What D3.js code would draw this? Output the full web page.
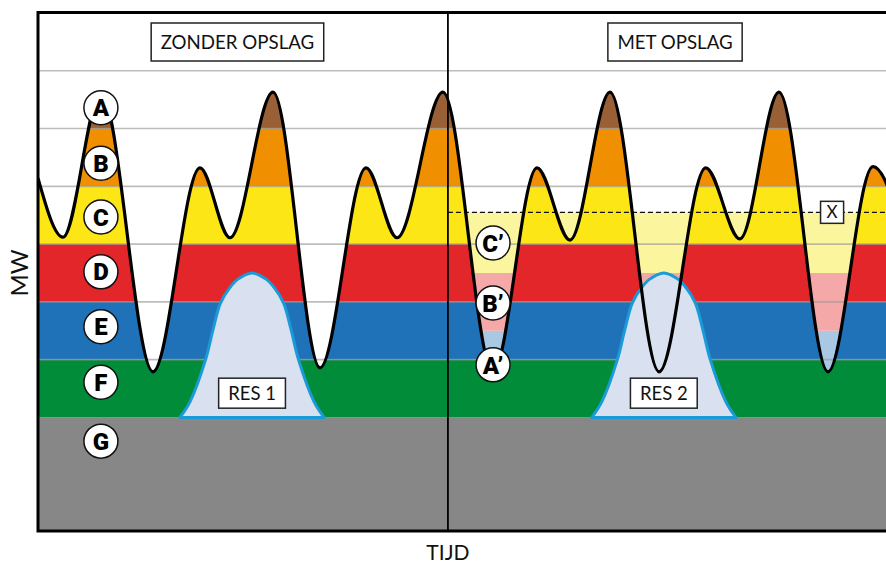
<!DOCTYPE html>
<html>
<head>
<meta charset="utf-8">
<script src="https://cdn.jsdelivr.net/npm/d3@7"></script>
<style>
  body { margin: 0; background: #fff; }
  svg { display: block; }
</style>
</head>
<body>
<div id="chart"></div>
<script>
// vraagcurve: keerpunten (tijd, MW)
const demandTime = [0, 1.47, 3.71, 6.78, 9.55, 11.32, 13.86, 16.63, 19.34, 21.17, 23.88, 26.83, 29.42, 31.37, 33.73, 36.62, 39.37, 41.39, 43.69, 46.58, 49.23, 51.1];
const demandMW = [6.14, 5.12, 7.63, 2.79, 6.32, 5.11, 7.63, 2.86, 6.32, 5.11, 7.63, 2.79, 6.32, 5.07, 7.63, 2.79, 6.32, 5.09, 7.63, 2.79, 6.34, 5.1];

// productielagen (merit order)
const bandNames = ['G', 'F', 'E', 'D', 'C', 'B', 'A'];
const bandLow = [0, 2, 3, 4, 5, 6, 7];
const bandHigh = [2, 3, 4, 5, 6, 7, 8];
const bandColors = ['#878787', '#008c38', '#1f71b8', '#e3262a', '#fce616', '#f08f00', '#9a6035'];
const bandLabelMW = [1.59, 2.61, 3.57, 4.52, 5.47, 6.40, 7.36];
const bandLabelTime = 3.71;

// opslag (alleen rechter paneel)
const storageNames = ['A\u2019', 'B\u2019', 'C\u2019'];
const storageLow = [0, 3.5, 4.5];
const storageHigh = [3.5, 4.5, 5.55];
const storageColors = ['#a8c8e4', '#f4a8a8', '#fbf59e'];
const storageLabelMW = [2.91, 3.98, 5.02];
const storageLabelTime = 26.83;
const storageLevel = 5.55;
const storageLevelLabel = 'X';
const storageLevelLabelTime = 46.82;

// RES-productie (klokvorm)
const resOffset = [-4.25, -3.66, -2.74, -2.3, -1.86, -1.3, -0.85, 0, 0.85, 1.3, 1.86, 2.3, 2.74, 3.66, 4.25];
const resMW = [2.0, 2.27, 3.0, 3.52, 3.98, 4.25, 4.39, 4.5, 4.39, 4.25, 3.98, 3.52, 3.0, 2.27, 2.0];
const resNames = ['RES 1', 'RES 2'];
const resCenter = [12.62, 36.9];
const resLabelMW = 2.42;

const panelNames = ['ZONDER OPSLAG', 'MET OPSLAG'];
const panelStart = [0, 24.17];
const panelLabelTime = [11.76, 37.56];

const width = 886, height = 565;
const x = d3.scaleLinear().domain([0, 50]).range([38, 886]);
const y = d3.scaleLinear().domain([0, 9]).range([533, 13]);
const plotTop = 12.5, plotBottom = 531;
const font = 'Lato, "Open Sans", sans-serif';

const svg = d3.select('#chart').append('svg')
  .attr('width', width)
  .attr('height', height);

const defs = svg.append('defs');
defs.append('clipPath').attr('id', 'plot-clip')
  .append('rect')
  .attr('x', x(0))
  .attr('y', plotTop)
  .attr('width', width - x(0) + 10)
  .attr('height', plotBottom - plotTop);

const idx = d3.range(demandTime.length);
const areaAbove = d3.area()
  .x(i => x(demandTime[i]))
  .y0(y(9.5))
  .y1(i => y(demandMW[i]))
  .curve(d3.curveMonotoneX);
const demandLine = d3.line()
  .x(i => x(demandTime[i]))
  .y(i => y(demandMW[i]))
  .curve(d3.curveMonotoneX);

defs.append('clipPath').attr('id', 'above-curve')
  .append('path')
  .attr('d', areaAbove(idx));

const plot = svg.append('g').attr('clip-path', 'url(#plot-clip)');

// lagen
plot.selectAll('rect.band')
  .data(bandNames)
  .enter()
  .append('rect')
  .attr('class', 'band')
  .attr('x', x(0))
  .attr('y', (d, i) => y(bandHigh[i]))
  .attr('width', width)
  .attr('height', (d, i) => y(bandLow[i]) - y(bandHigh[i]))
  .attr('fill', (d, i) => bandColors[i]);

// alles boven de vraag is wit
plot.append('path')
  .attr('d', areaAbove(idx))
  .attr('fill', '#fff');

// opslag vult de dalen in het rechter paneel
plot.append('g')
  .attr('clip-path', 'url(#above-curve)')
  .selectAll('rect')
  .data(storageNames)
  .enter()
  .append('rect')
  .attr('x', x(panelStart[1]))
  .attr('y', (d, i) => y(storageHigh[i]))
  .attr('width', width)
  .attr('height', (d, i) => y(storageLow[i]) - y(storageHigh[i]))
  .attr('fill', (d, i) => storageColors[i]);

// rasterlijnen
plot.selectAll('line.grid')
  .data(bandHigh.slice(1))
  .enter()
  .append('line')
  .attr('class', 'grid')
  .attr('x1', x(0))
  .attr('x2', width)
  .attr('y1', d => y(d))
  .attr('y2', d => y(d))
  .attr('stroke', '#9a9a9a')
  .attr('stroke-opacity', 0.65)
  .attr('stroke-width', 1.6);

// RES klokken
const resIdx = d3.range(resOffset.length);
resCenter.forEach((c, k) => {
  const bell = d3.line()
    .x(i => x(c + resOffset[i]))
    .y(i => y(resMW[i]))
    .curve(d3.curveCatmullRom.alpha(0.5));
  plot.append('path')
    .attr('d', bell(resIdx) + 'Z')
    .attr('fill', '#d9e1f1')
    .attr('stroke', '#1b9ad8')
    .attr('stroke-width', 3)
    .attr('stroke-linejoin', 'round');
});

// opslagniveau X
plot.append('line')
  .attr('x1', x(panelStart[1]))
  .attr('x2', width)
  .attr('y1', y(storageLevel))
  .attr('y2', y(storageLevel))
  .attr('stroke', '#111')
  .attr('stroke-width', 1.3)
  .attr('stroke-dasharray', '5,3');

// vraagcurve
plot.append('path')
  .attr('d', demandLine(idx))
  .attr('fill', 'none')
  .attr('stroke', '#000')
  .attr('stroke-width', 3.2)
  .attr('stroke-linejoin', 'round');

// scheiding panelen
svg.append('line')
  .attr('x1', x(panelStart[1]))
  .attr('x2', x(panelStart[1]))
  .attr('y1', plotTop)
  .attr('y2', plotBottom)
  .attr('stroke', '#000')
  .attr('stroke-width', 1.8);

// kader (rechts valt buiten beeld)
svg.append('rect')
  .attr('x', x(0))
  .attr('y', plotTop)
  .attr('width', width)
  .attr('height', plotBottom - plotTop)
  .attr('fill', 'none')
  .attr('stroke', '#000')
  .attr('stroke-width', 3);

// tekst in kaders
function boxedText(cx, cy, text, size, padX, boxH) {
  const g = svg.append('g');
  const rect = g.append('rect');
  const t = g.append('text')
    .attr('x', cx)
    .attr('y', cy)
    .attr('dy', '0.36em')
    .attr('text-anchor', 'middle')
    .attr('font-family', font)
    .attr('font-size', size)
    .attr('fill', '#111')
    .text(text);
  const w = t.node().getComputedTextLength() + padX * 2;
  rect.attr('x', cx - w / 2)
    .attr('y', cy - boxH / 2)
    .attr('width', w)
    .attr('height', boxH)
    .attr('fill', '#fff')
    .attr('stroke', '#222')
    .attr('stroke-width', 1.5);
}

panelNames.forEach((name, i) => boxedText(x(panelLabelTime[i]), 42, name, 18.7, 9.5, 38));
resNames.forEach((name, i) => boxedText(x(resCenter[i]), y(resLabelMW), name, 18.5, 9.5, 30));
boxedText(x(storageLevelLabelTime), y(storageLevel), storageLevelLabel, 17, 6, 22);

// letters in cirkels
function circleLabel(cx, cy, text) {
  svg.append('circle')
    .attr('cx', cx)
    .attr('cy', cy)
    .attr('r', 17)
    .attr('fill', '#fff')
    .attr('stroke', '#111')
    .attr('stroke-width', 1.5);
  svg.append('text')
    .attr('x', cx)
    .attr('y', cy)
    .attr('dy', '0.36em')
    .attr('text-anchor', 'middle')
    .attr('font-family', 'Roboto, "DejaVu Sans", sans-serif')
    .attr('font-weight', 900)
    .attr('font-size', 24)
    .attr('fill', '#000')
    .text(text);
}

bandNames.forEach((n, i) => circleLabel(x(bandLabelTime), y(bandLabelMW[i]), n));
storageNames.forEach((n, i) => circleLabel(x(storageLabelTime), y(storageLabelMW[i]), n));

// assen
svg.append('text')
  .attr('transform', `translate(19, ${y(4.5)}) rotate(-90)`)
  .attr('dy', '0.36em')
  .attr('text-anchor', 'middle')
  .attr('font-family', font)
  .attr('font-size', 24)
  .attr('fill', '#111')
  .text('MW');

svg.append('text')
  .attr('x', x(panelStart[1]))
  .attr('y', 552)
  .attr('dy', '0.36em')
  .attr('text-anchor', 'middle')
  .attr('font-family', font)
  .attr('font-size', 21)
  .attr('fill', '#111')
  .text('TIJD');
</script>
</body>
</html>
